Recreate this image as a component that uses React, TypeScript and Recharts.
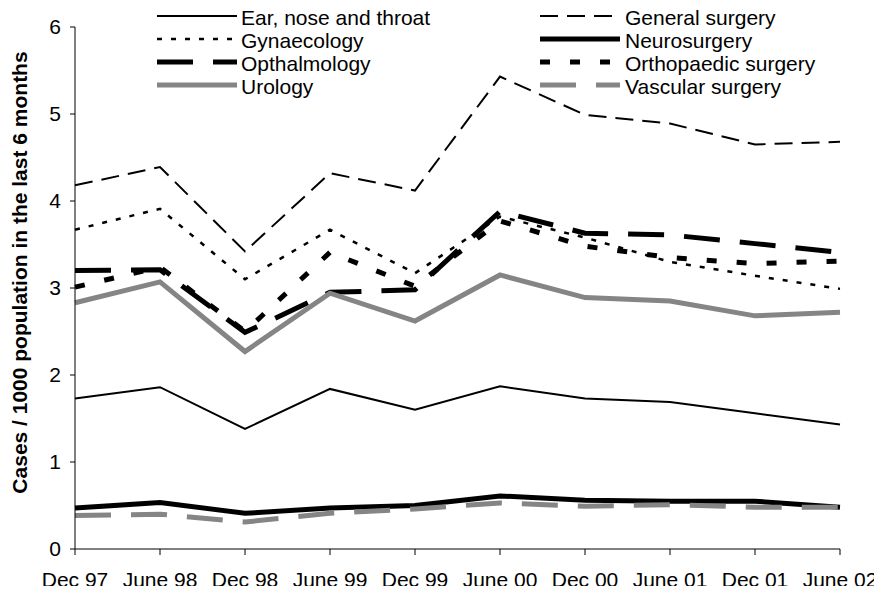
import React from 'react';
import { LineChart, Line, XAxis, YAxis, Customized } from 'recharts';

const periods = ['Dec 97', 'June 98', 'Dec 98', 'June 99', 'Dec 99', 'June 00', 'Dec 00', 'June 01', 'Dec 01', 'June 02'];

const earNoseThroat = [1.73, 1.86, 1.38, 1.84, 1.60, 1.87, 1.73, 1.69, 1.56, 1.43];
const generalSurgery = [4.18, 4.39, 3.42, 4.32, 4.12, 5.43, 4.99, 4.89, 4.65, 4.68];
const gynaecology = [3.67, 3.91, 3.10, 3.67, 3.17, 3.82, 3.58, 3.30, 3.14, 2.99];
const neurosurgery = [0.47, 0.535, 0.41, 0.47, 0.50, 0.61, 0.56, 0.55, 0.55, 0.48];
const opthalmology = [3.20, 3.21, 2.49, 2.95, 2.98, 3.88, 3.63, 3.61, 3.51, 3.41];
const orthopaedic = [3.01, 3.24, 2.50, 3.41, 3.02, 3.77, 3.48, 3.35, 3.28, 3.31];
const urology = [2.83, 3.07, 2.27, 2.94, 2.62, 3.15, 2.89, 2.85, 2.68, 2.72];
const vascular = [0.385, 0.40, 0.31, 0.41, 0.46, 0.53, 0.49, 0.51, 0.48, 0.48];

const yTicks = [0, 1, 2, 3, 4, 5, 6];
const yTitle = 'Cases / 1000 population in the last 6 months';

const series = [
  { key: 'ent', name: 'Ear, nose and throat', values: earNoseThroat, color: '#000000', width: 2, dash: undefined as string | undefined },
  { key: 'gen', name: 'General surgery', values: generalSurgery, color: '#000000', width: 2, dash: '18 9' },
  { key: 'gyn', name: 'Gynaecology', values: gynaecology, color: '#000000', width: 2.5, dash: '5 9' },
  { key: 'neu', name: 'Neurosurgery', values: neurosurgery, color: '#000000', width: 5, dash: undefined },
  { key: 'opt', name: 'Opthalmology', values: opthalmology, color: '#000000', width: 5, dash: '36 20' },
  { key: 'ort', name: 'Orthopaedic surgery', values: orthopaedic, color: '#000000', width: 5, dash: '10 20' },
  { key: 'uro', name: 'Urology', values: urology, color: '#858585', width: 5, dash: undefined },
  { key: 'vas', name: 'Vascular surgery', values: vascular, color: '#858585', width: 5, dash: '36 20' },
];

const data = periods.map((p, i) => {
  const row: Record<string, string | number> = { period: p };
  series.forEach((s) => {
    row[s.key] = s.values[i];
  });
  return row;
});

const FONT = '"Liberation Sans", Arial, sans-serif';

const Overlay = () => {
  const rowCap = [17, 40, 63, 86];
  const cols = [
    { x1: 157, x2: 237, tx: 241 },
    { x1: 540, x2: 620, tx: 625 },
  ];
  return (
    <g>
      <text
        x={26.5}
        y={272.5}
        transform="rotate(-90 26.5 272.5)"
        textAnchor="middle"
        fontFamily={FONT}
        fontWeight="bold"
        fontSize={21}
        fill="#000"
      >
        {yTitle}
      </text>
      {series.map((s, i) => {
        const col = cols[i % 2];
        const r = rowCap[Math.floor(i / 2)];
        return (
          <g key={s.key}>
            <line
              x1={col.x1}
              x2={col.x2}
              y1={r - 1}
              y2={r - 1}
              stroke={s.color}
              strokeWidth={s.width}
              strokeDasharray={s.dash}
            />
            <text x={col.tx} y={r + 7.5} fontFamily={FONT} fontSize={21} fill="#000">
              {s.name}
            </text>
          </g>
        );
      })}
    </g>
  );
};

export default function App() {
  return (
    <div style={{ width: 882, height: 594, margin: -8 }}>
      <LineChart
        width={882}
        height={594}
        data={data}
        margin={{ top: 27, right: 42, bottom: 15, left: 0 }}
      >
        <XAxis
          dataKey="period"
          interval={0}
          height={30}
          padding={{ left: 0, right: 0 }}
          axisLine={{ stroke: '#000', strokeWidth: 1 }}
          tickLine={{ stroke: '#000', strokeWidth: 1 }}
          tickSize={6}
          tickMargin={17}
          tick={{ fill: '#000', fontSize: 21, fontFamily: FONT }}
        />
        <YAxis
          width={75}
          domain={[0, 6]}
          ticks={yTicks}
          allowDataOverflow
          axisLine={{ stroke: '#000', strokeWidth: 1 }}
          tickLine={{ stroke: '#000', strokeWidth: 1 }}
          tickSize={5}
          tickMargin={9}
          tick={{ fill: '#000', fontSize: 21, fontFamily: FONT }}
        />
        {series.map((s) => (
          <Line
            key={s.key}
            dataKey={s.key}
            name={s.name}
            type="linear"
            stroke={s.color}
            strokeWidth={s.width}
            strokeDasharray={s.dash}
            dot={false}
            activeDot={false}
            isAnimationActive={false}
          />
        ))}
        <Customized component={<Overlay />} />
      </LineChart>
    </div>
  );
}
